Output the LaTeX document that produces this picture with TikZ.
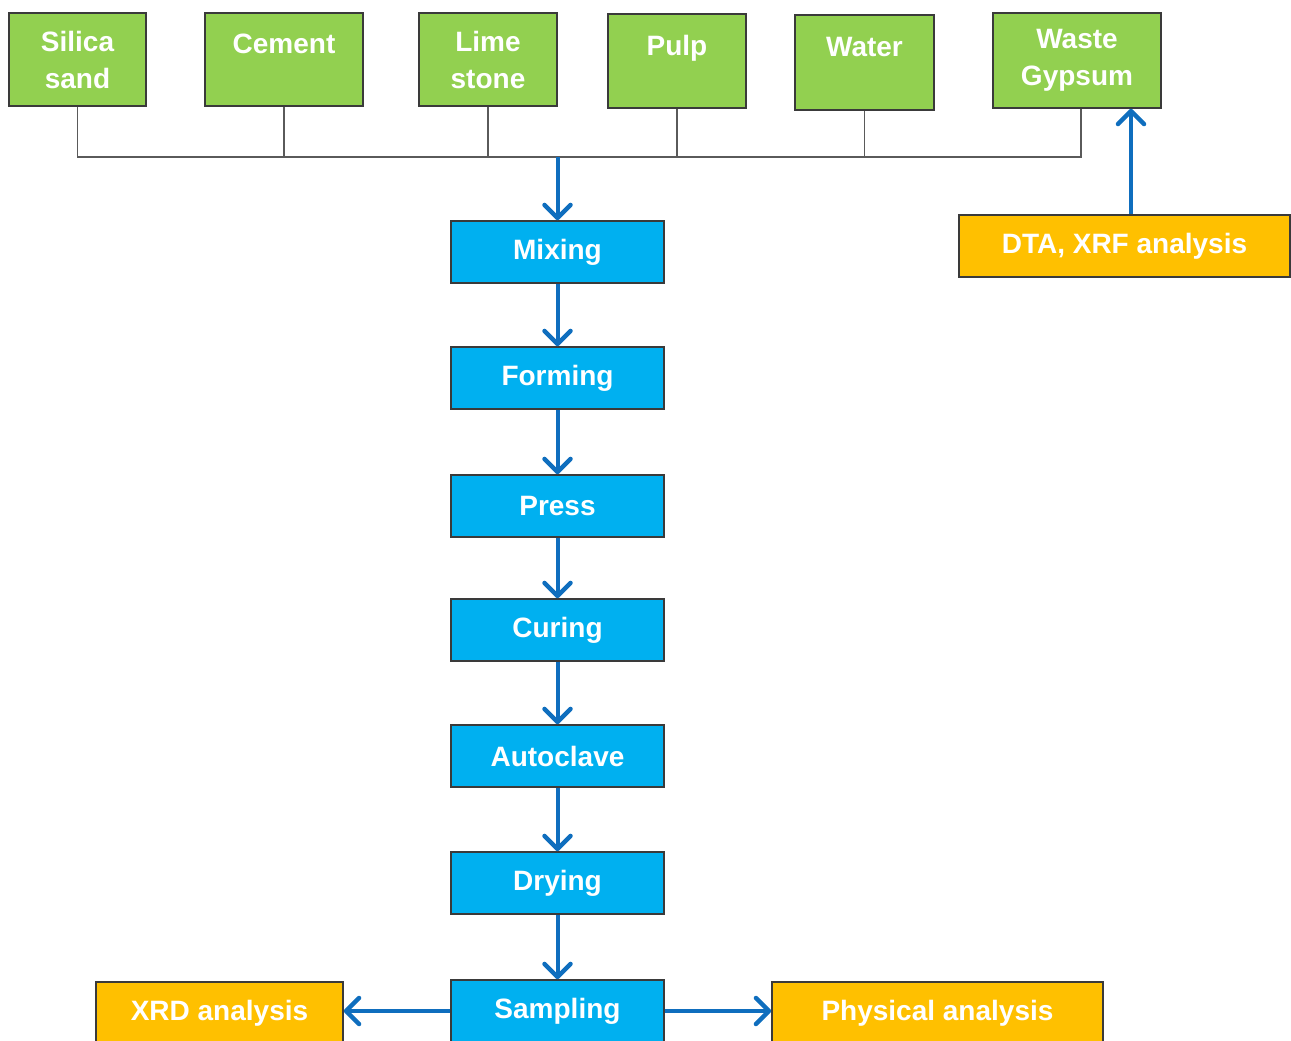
\documentclass[tikz,border=0pt]{standalone}
\usepackage{fontspec}
\setmainfont{Liberation Sans}
\usetikzlibrary{arrows.meta}
\definecolor{gbox}{HTML}{92D050}
\definecolor{bbox}{HTML}{00B0F0}
\definecolor{obox}{HTML}{FFC000}
\definecolor{arr}{HTML}{0F6EBE}
\definecolor{edge}{HTML}{3A3A3A}
\definecolor{conn}{HTML}{5A5A5A}
\begin{document}
\begin{tikzpicture}[x=1pt,y=-1pt,
  box/.style={draw=edge,line width=1.6pt,inner sep=0pt,align=center,text=white,
    font=\fontsize{28}{37}\selectfont\bfseries},
  gbx/.style={box,fill=gbox},
  bbx/.style={box,fill=bbox,minimum width=213pt,minimum height=62pt},
  obx/.style={box,fill=obox,minimum height=62pt},
  connline/.style={draw=conn,line width=1.6pt},
  flow/.style={draw=arr,line width=4pt,-{Straight Barb[length=13pt,width=26pt,line width=4.5pt,round]}}]
\useasboundingbox (0,0) rectangle (1291,1041);
% green inputs
\node[gbx,minimum width=137pt,minimum height=93pt] (silica) at (77.5,59.5) {Silica\\sand};
\node[gbx,minimum width=158pt,minimum height=93pt] (cement) at (284,59.5) {Cement\\[-16pt]\strut};
\node[gbx,minimum width=138pt,minimum height=93pt] (lime) at (488,59.5) {Lime\\stone};
\node[gbx,minimum width=138pt,minimum height=94pt] (pulp) at (677,61) {Pulp\\[-16pt]\strut};
\node[gbx,minimum width=139pt,minimum height=95pt] (water) at (864.5,62.5) {Water\\[-16pt]\strut};
\node[gbx,minimum width=168pt,minimum height=95pt] (waste) at (1077,60.5) {Waste\\Gypsum};
% process chain
\node[bbx] (mixing) at (557.5,252) {Mixing};
\node[bbx] (forming) at (557.5,378) {Forming};
\node[bbx] (press) at (557.5,506) {Press};
\node[bbx] (curing) at (557.5,630) {Curing};
\node[bbx] (autoclave) at (557.5,756) {Autoclave};
\node[bbx] (drying) at (557.5,883) {Drying};
\node[bbx] (sampling) at (557.5,1011) {Sampling};
% analyses
\node[obx,minimum width=331pt] (dta) at (1124.5,246) {DTA, XRF analysis};
\node[obx,minimum width=247pt] (xrd) at (219.5,1013) {XRD analysis};
\node[obx,minimum width=331pt] (phys) at (937.5,1013) {Physical analysis};
% bus
\coordinate (busy) at (0,157);
\draw[connline] (silica.south) -- (silica.south |- busy) -- ([xshift=4pt]waste.south |- busy) -- ([xshift=4pt]waste.south);
\draw[connline] (cement.south) -- (cement.south |- busy);
\draw[connline] (lime.south) -- (lime.south |- busy);
\draw[connline] (pulp.south) -- (pulp.south |- busy);
\draw[connline] (water.south) -- (water.south |- busy);
% flow arrows
\draw[flow] (busy -| mixing.north) -- (mixing.north);
\draw[flow] (mixing) -- (forming);
\draw[flow] (forming) -- (press);
\draw[flow] (press) -- (curing);
\draw[flow] (curing) -- (autoclave);
\draw[flow] (autoclave) -- (drying);
\draw[flow] (drying) -- (sampling);
\draw[flow] ([xshift=6.5pt]dta.north) -- ([xshift=6.5pt]dta.north |- waste.south);
\draw[flow] (sampling.west) -- (sampling.west -| xrd.east);
\draw[flow] (sampling.east) -- (sampling.east -| phys.west);
\end{tikzpicture}
\end{document}
